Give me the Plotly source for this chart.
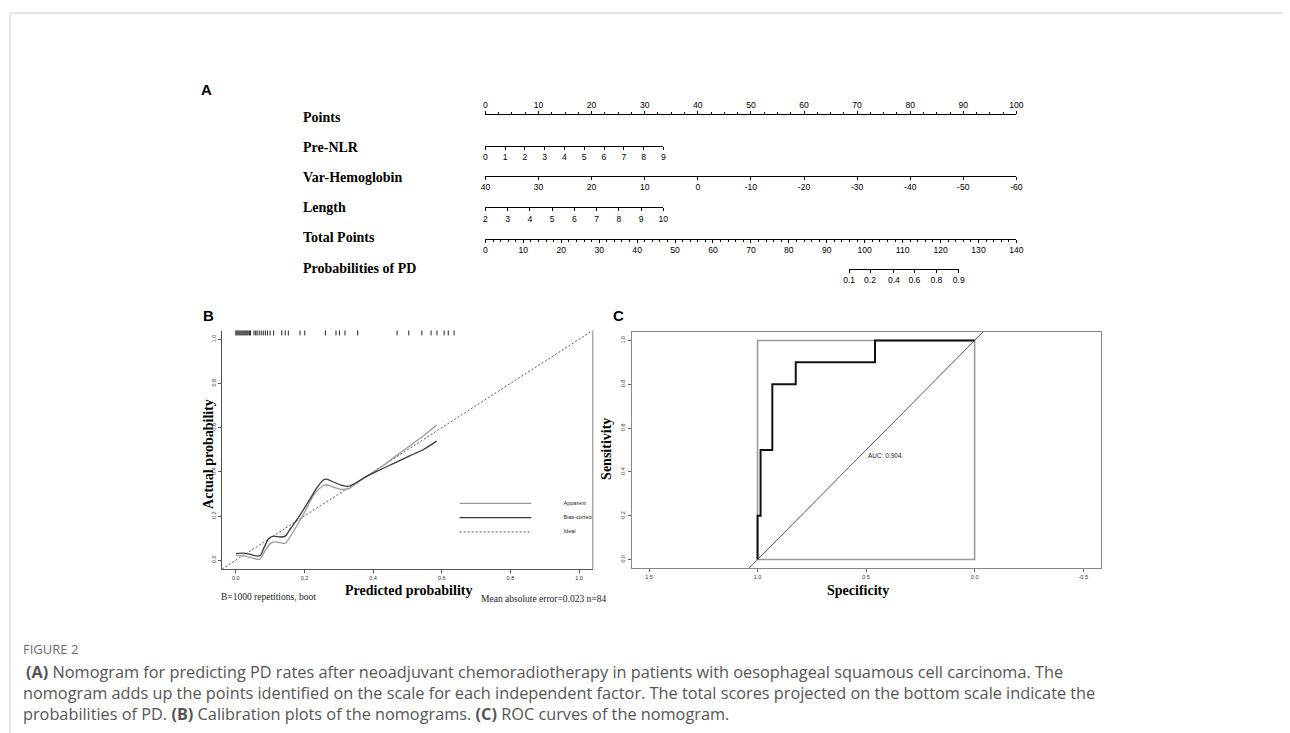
import plotly.graph_objects as go

W, H = 1290, 733

# ---------------- Panel A: nomogram scales ----------------
nomo_rows = ["Points", "Pre-NLR", "Var-Hemoglobin", "Length", "Total Points", "Probabilities of PD"]
points_ticks = [0, 10, 20, 30, 40, 50, 60, 70, 80, 90, 100]
prenlr_ticks = [0, 1, 2, 3, 4, 5, 6, 7, 8, 9]
prenlr_max_points = 33.5          # points given by Pre-NLR = 9
hemo_ticks = [40, 30, 20, 10, 0, -10, -20, -30, -40, -50, -60]
length_ticks = [2, 3, 4, 5, 6, 7, 8, 9, 10]
length_max_points = 33.5          # points given by Length = 10
total_ticks = [0, 10, 20, 30, 40, 50, 60, 70, 80, 90, 100, 110, 120, 130, 140]
prob_labels = ["0.1", "0.2", "0.4", "0.6", "0.8", "0.9"]
prob_total_points = [95.9, 101.4, 107.7, 113.1, 118.9, 124.8]

# ---------------- Panel B: calibration ----------------
cal_pred_apparent = [0.0, 0.024, 0.048, 0.062, 0.072, 0.086, 0.101, 0.115, 0.129, 0.144, 0.158,
                     0.182, 0.201, 0.230, 0.254, 0.269, 0.288, 0.312, 0.331, 0.355, 0.384, 0.432,
                     0.489, 0.547, 0.585]
cal_obs_apparent = [0.022, 0.019, 0.010, 0.004, 0.007, 0.045, 0.076, 0.083, 0.079, 0.076, 0.106,
                    0.166, 0.219, 0.302, 0.337, 0.340, 0.329, 0.320, 0.325, 0.352, 0.382, 0.431,
                    0.498, 0.563, 0.612]
cal_pred_bias = [0.0, 0.024, 0.043, 0.062, 0.072, 0.081, 0.096, 0.110, 0.129, 0.144, 0.158, 0.187,
                 0.211, 0.235, 0.254, 0.264, 0.283, 0.307, 0.326, 0.345, 0.374, 0.412, 0.460, 0.508,
                 0.547, 0.585]
cal_obs_bias = [0.030, 0.032, 0.026, 0.018, 0.022, 0.053, 0.098, 0.109, 0.105, 0.109, 0.140, 0.204,
                0.264, 0.325, 0.362, 0.367, 0.355, 0.340, 0.334, 0.346, 0.373, 0.403, 0.438, 0.473,
                0.501, 0.539]
rug_pred = [0.0, 0.003, 0.006, 0.009, 0.012, 0.015, 0.018, 0.021, 0.024, 0.027, 0.030, 0.033,
            0.036, 0.040, 0.043, 0.053, 0.058, 0.062, 0.068, 0.074, 0.080, 0.086, 0.092, 0.100,
            0.110, 0.134, 0.144, 0.153, 0.187, 0.201, 0.261, 0.292, 0.302, 0.318, 0.355, 0.470,
            0.504, 0.542, 0.569, 0.586, 0.607, 0.619, 0.636]
cal_legend = ["Apparent", "Bias-corrected", "Ideal"]
cal_footer_left = "B=1000 repetitions, boot"
cal_footer_right = "Mean absolute error=0.023 n=84"
cal_ticks = [0.0, 0.2, 0.4, 0.6, 0.8, 1.0]

# ---------------- Panel C: ROC ----------------
roc_spec = [1.0, 0.986, 0.932, 0.824, 0.459, 0.0]
roc_sens = [0.0, 0.2, 0.5, 0.8, 0.9, 1.0]
auc = 0.904
roc_x_ticks = [1.5, 1.0, 0.5, 0.0, -0.5]
roc_y_ticks = [0.0, 0.2, 0.4, 0.6, 0.8, 1.0]

caption_head = "FIGURE 2"
caption_lines = [
    "<b>(A)</b> Nomogram for predicting PD rates after neoadjuvant chemoradiotherapy in patients with oesophageal squamous cell carcinoma. The",
    "nomogram adds up the points identified on the scale for each independent factor. The total scores projected on the bottom scale indicate the",
    "probabilities of PD. <b>(B)</b> Calibration plots of the nomograms. <b>(C)</b> ROC curves of the nomogram.",
]


def fx(px):
    return px / W


def fy(py):
    return 1 - py / H


SERIF = "Liberation Serif, Times New Roman, serif"
SANS = "Liberation Sans, Arial, sans-serif"

fig = go.Figure()

# ---------------- Nomogram axes ----------------
NX0, NX1 = 484.3, 1020.7


def dom_pts(p0, p1):
    return [fx(NX0 + (NX1 - NX0) * p0 / 100.0), fx(NX0 + (NX1 - NX0) * p1 / 100.0)]


tot_max = total_ticks[-1]
prob_dom = [fx(NX0 + (NX1 - NX0) * min(prob_total_points) / tot_max),
            fx(NX0 + (NX1 - NX0) * max(prob_total_points) / tot_max)]

nomo_base = dict(anchor="free", showgrid=False, zeroline=False, showline=True,
                 linecolor="black", linewidth=1, ticks="outside", ticklen=3, tickwidth=1,
                 tickcolor="black", tickmode="array", fixedrange=True,
                 tickfont=dict(family=SANS, size=8.6, color="black"))

axes_spec = [
    ("x", "xaxis", points_ticks, [str(v) for v in points_ticks], dom_pts(0, 100),
     [points_ticks[0], points_ticks[-1]], 114.3, "top", 2.5),
    ("x2", "xaxis2", prenlr_ticks, [str(v) for v in prenlr_ticks], dom_pts(0, prenlr_max_points),
     [prenlr_ticks[0], prenlr_ticks[-1]], 145.7, "bottom", None),
    ("x3", "xaxis3", hemo_ticks, [str(v) for v in hemo_ticks], dom_pts(0, 100),
     [hemo_ticks[0], hemo_ticks[-1]], 176.0, "bottom", None),
    ("x4", "xaxis4", length_ticks, [str(v) for v in length_ticks], dom_pts(0, length_max_points),
     [length_ticks[0], length_ticks[-1]], 207.3, "bottom", None),
    ("x5", "xaxis5", total_ticks, [str(v) for v in total_ticks], dom_pts(0, 100),
     [total_ticks[0], total_ticks[-1]], 239.0, "bottom", 2),
    ("x6", "xaxis6", prob_total_points, prob_labels, prob_dom,
     [min(prob_total_points), max(prob_total_points)], 269.0, "bottom", None),
]

layout_axes = {}
for ref, name, vals, texts, dom, rng, ypx, side, minor_dt in axes_spec:
    fig.add_trace(go.Scatter(x=vals, y=[0] * len(vals), xaxis=ref, yaxis="y", mode="markers",
                             marker=dict(opacity=0, size=1), hoverinfo="skip", showlegend=False))
    ax = dict(nomo_base, domain=dom, range=rng, position=fy(ypx), side=side,
              tickvals=vals, ticktext=texts)
    if minor_dt:
        ax["minor"] = dict(ticks="outside", ticklen=2, tickcolor="black", tickmode="linear",
                           tick0=0, dtick=minor_dt, showgrid=False)
    layout_axes[name] = ax

annotations = []
row_label_y = [117.7, 147.7, 177.7, 207.3, 237.7, 268.3]
for lab, ypx in zip(nomo_rows, row_label_y):
    annotations.append(dict(text=lab, x=fx(298.3), y=fy(ypx), xref="paper", yref="paper",
                            xanchor="left", yanchor="middle", showarrow=False,
                            font=dict(family=SERIF, size=14, color="black", weight="bold")))

# ---------------- Panel B: calibration ----------------
CAL_RNG = [-0.04, 1.04]
fig.add_trace(go.Scatter(x=CAL_RNG, y=CAL_RNG, xaxis="x7", yaxis="y2", mode="lines",
                         line=dict(color="#444", width=0.9, dash="2px,2px"),
                         hoverinfo="skip", showlegend=False))
fig.add_trace(go.Scatter(x=cal_pred_apparent, y=cal_obs_apparent, xaxis="x7", yaxis="y2",
                         mode="lines", line=dict(color="#9a9a9a", width=1.3, shape="spline",
                                                 smoothing=0.6),
                         hoverinfo="skip", showlegend=False))
fig.add_trace(go.Scatter(x=cal_pred_bias, y=cal_obs_bias, xaxis="x7", yaxis="y2",
                         mode="lines", line=dict(color="#3a3a3a", width=1.3, shape="spline",
                                                 smoothing=0.6),
                         hoverinfo="skip", showlegend=False))
fig.add_trace(go.Scatter(x=rug_pred, y=[CAL_RNG[1]] * len(rug_pred), xaxis="x7", yaxis="y2",
                         mode="markers", cliponaxis=True,
                         marker=dict(symbol="line-ns-open", size=7, color="#222",
                                     line=dict(color="#222", width=1)),
                         hoverinfo="skip", showlegend=False))

# legend of panel B (positions in axis units)
LEG_X0, LEG_X1, LEG_TX = 0.652, 0.861, 0.955
LEG_Y = [0.257, 0.193, 0.128]
leg_styles = [dict(color="#9a9a9a", width=1.2), dict(color="#3a3a3a", width=1.3),
              dict(color="#444", width=0.9, dash="2px,2px")]
for yy, st in zip(LEG_Y, leg_styles):
    fig.add_trace(go.Scatter(x=[LEG_X0, LEG_X1], y=[yy, yy], xaxis="x7", yaxis="y2",
                             mode="lines", line=st, hoverinfo="skip", showlegend=False))
fig.add_trace(go.Scatter(x=[LEG_TX] * 3, y=LEG_Y, text=cal_legend, xaxis="x7", yaxis="y2",
                         mode="text", textposition="middle right", cliponaxis=True,
                         textfont=dict(family=SANS, size=5.5, color="#222"),
                         hoverinfo="skip", showlegend=False))

cal_tick_txt = ["%.1f" % v for v in cal_ticks]
tick_common = dict(showgrid=False, zeroline=False, showline=True, linewidth=1, ticks="outside",
                   ticklen=3, tickwidth=1, fixedrange=True,
                   tickfont=dict(family=SANS, size=5.5, color="#333"))
layout_axes["xaxis7"] = dict(tick_common, domain=[fx(218.3), fx(592.7)], range=CAL_RNG,
                             anchor="y2", linecolor="#555", tickcolor="#555",
                             tickvals=cal_ticks, ticktext=cal_tick_txt)
layout_axes["yaxis2"] = dict(tick_common, domain=[fy(569.0), fy(330.5)], range=CAL_RNG,
                             anchor="x7", linecolor="#555", tickcolor="#555",
                             tickvals=cal_ticks, ticktext=cal_tick_txt, tickangle=-90)

shapes = [
    dict(type="line", xref="x7 domain", yref="y2 domain", x0=1, x1=1, y0=0, y1=1.0,
         line=dict(color="#aaaaaa", width=1.5)),
    dict(type="line", xref="paper", yref="paper", x0=fx(4), x1=1, y0=fy(13), y1=fy(13),
         line=dict(color="#d0d0d0", width=1)),
    dict(type="line", xref="paper", yref="paper", x0=fx(4), x1=fx(4), y0=0, y1=fy(13),
         line=dict(color="#d0d0d0", width=1)),
]

annotations += [
    dict(text="Actual probability", x=fx(204), y=fy(454), xref="paper", yref="paper",
         textangle=-90, showarrow=False, xanchor="center", yanchor="middle",
         font=dict(family=SERIF, size=14, color="black", weight="bold")),
    dict(text="Predicted probability", x=fx(406.7), y=fy(590.7), xref="paper", yref="paper",
         showarrow=False, xanchor="center", yanchor="middle",
         font=dict(family=SERIF, size=14, color="black", weight="bold")),
    dict(text=cal_footer_left, x=fx(215), y=fy(597.3), xref="paper", yref="paper",
         showarrow=False, xanchor="left", yanchor="middle",
         font=dict(family=SERIF, size=9.5, color="#222")),
    dict(text=cal_footer_right, x=fx(478.3), y=fy(599.3), xref="paper", yref="paper",
         showarrow=False, xanchor="left", yanchor="middle",
         font=dict(family=SERIF, size=9.5, color="#222")),
]

# ---------------- Panel C: ROC ----------------
ROC_YRNG = [-0.04, 1.04]
ROC_XRNG = [1.58, -0.58]
fig.add_trace(go.Scatter(x=[1 - v for v in ROC_YRNG], y=ROC_YRNG, xaxis="x8", yaxis="y3",
                         mode="lines", line=dict(color="#444", width=0.9),
                         hoverinfo="skip", showlegend=False))
sx0, sx1 = max(roc_spec), min(roc_spec)
sy0, sy1 = min(roc_sens), max(roc_sens)
fig.add_trace(go.Scatter(x=[sx0, sx0, sx1, sx1, sx0], y=[sy0, sy1, sy1, sy0, sy0],
                         xaxis="x8", yaxis="y3", mode="lines",
                         line=dict(color="#9a9a9a", width=1.6),
                         hoverinfo="skip", showlegend=False))
fig.add_trace(go.Scatter(x=roc_spec, y=roc_sens, xaxis="x8", yaxis="y3", mode="lines",
                         line=dict(color="#111", width=2, shape="vh"),
                         hoverinfo="skip", showlegend=False))
annotations.append(dict(text="AUC: %.3f" % auc, x=0.5, y=0.5, xref="x8", yref="y3",
                        xanchor="left", yanchor="top", showarrow=False,
                        font=dict(family=SANS, size=6.5, color="#222")))

layout_axes["xaxis8"] = dict(tick_common, domain=[fx(632.0), fx(1105.7)], range=ROC_XRNG,
                             anchor="y3", linecolor="#888", tickcolor="#666", mirror=True,
                             tickvals=roc_x_ticks, ticktext=["%.1f" % v for v in roc_x_ticks])
layout_axes["yaxis3"] = dict(tick_common, domain=[fy(568.3), fy(331.7)], range=ROC_YRNG,
                             anchor="x8", linecolor="#888", tickcolor="#666", mirror=True,
                             tickvals=roc_y_ticks, ticktext=["%.1f" % v for v in roc_y_ticks],
                             tickangle=-90)

annotations += [
    dict(text="Sensitivity", x=fx(606), y=fy(449), xref="paper", yref="paper",
         textangle=-90, showarrow=False, xanchor="center", yanchor="middle",
         font=dict(family=SERIF, size=14, color="black", weight="bold")),
    dict(text="Specificity", x=fx(860.7), y=fy(590.7), xref="paper", yref="paper",
         showarrow=False, xanchor="center", yanchor="middle",
         font=dict(family=SERIF, size=14, color="black", weight="bold")),
]

# panel letters
for letter, (lx, ly) in zip(["A", "B", "C"], [(203, 89), (205, 315.5), (619, 315.5)]):
    annotations.append(dict(text=letter, x=fx(lx), y=fy(ly), xref="paper", yref="paper",
                            showarrow=False, xanchor="center", yanchor="middle",
                            font=dict(family=SANS, size=15, color="black", weight="bold")))

# caption
annotations.append(dict(text=caption_head, x=fx(15), y=fy(649), xref="paper", yref="paper",
                        showarrow=False, xanchor="left", yanchor="middle",
                        font=dict(family="Open Sans, sans-serif", size=13, color="#6b6b6b")))
for i, line in enumerate(caption_lines):
    annotations.append(dict(text=line, x=fx(15 if i else 18), y=fy(672 + 21 * i),
                            xref="paper", yref="paper", showarrow=False,
                            xanchor="left", yanchor="middle",
                            font=dict(family="Open Sans, sans-serif", size=16.3, color="#555")))

fig.update_layout(
    width=W, height=H, margin=dict(l=0, r=0, t=0, b=0),
    paper_bgcolor="white", plot_bgcolor="rgba(0,0,0,0)", showlegend=False,
    hovermode=False,
    yaxis=dict(domain=[fy(290), fy(95)], range=[-1, 1], visible=False, fixedrange=True),
    annotations=annotations, shapes=shapes,
    **layout_axes,
)

fig.write_html("out.html", config={"displayModeBar": False},
               post_script="document.body.style.margin='0';")
